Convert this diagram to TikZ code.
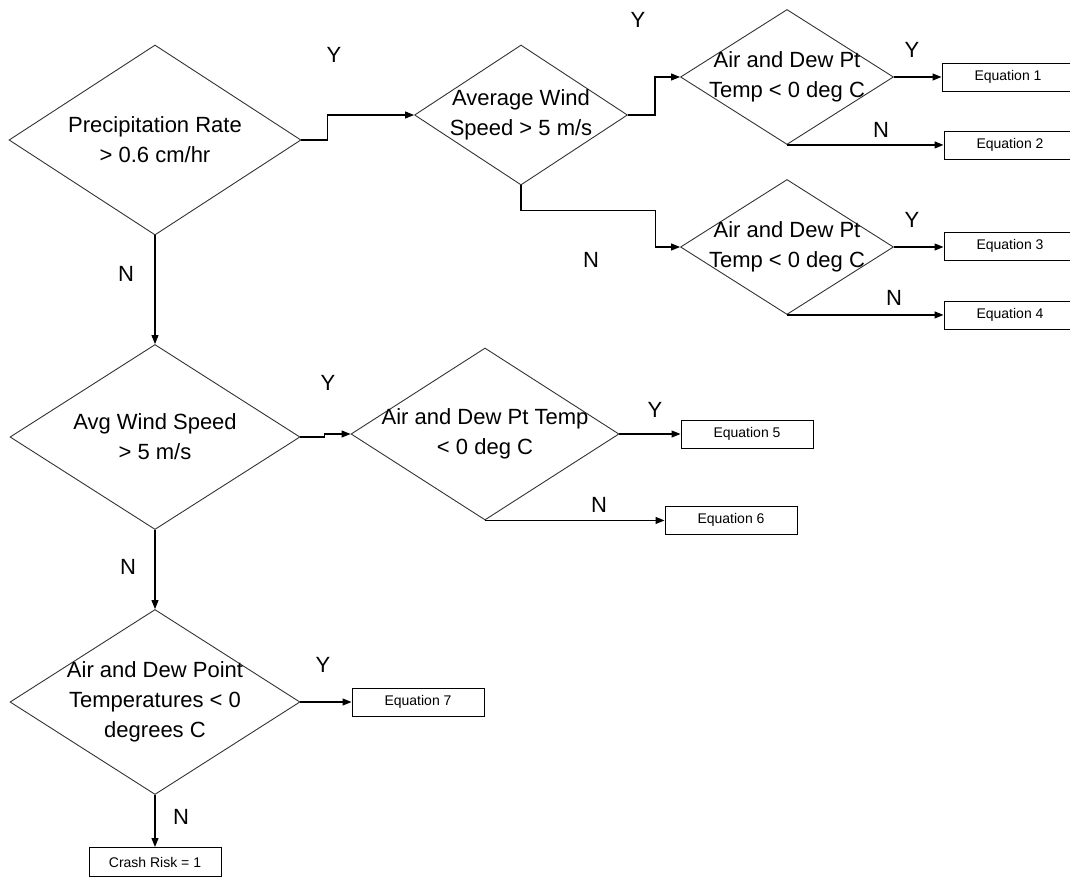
\documentclass[tikz,border=0pt]{standalone}
\usepackage{fontspec}
\setmainfont{Liberation Sans}
\usetikzlibrary{shapes.geometric, arrows.meta, calc}

\begin{document}
\begin{tikzpicture}[x=1pt,y=-1pt,
  decision/.style={draw=black!80, line width=0.9pt, shape=diamond, inner sep=0pt},
  dtext/.style={align=center, font=\fontsize{22}{30}\selectfont},
  eqbox/.style={draw, line width=1pt, minimum width=132pt, minimum height=28pt, inner sep=0pt, font=\fontsize{14}{16}\selectfont},
  yn/.style={font=\fontsize{22}{24}\selectfont},
  arr/.style={line width=1.1pt, -{Triangle[length=9pt,width=7pt]}}]
\useasboundingbox (0,0) rectangle (1070,878);
\node [decision, minimum width=292pt, minimum height=190pt, label={[dtext]center:Precipitation Rate\\> 0.6 cm/hr}] (rate) at (155,140) {};
\node [decision, minimum width=213pt, minimum height=140pt, label={[dtext]center:Average Wind\\Speed > 5 m/s}] (wind1) at (521,115) {};
\node [decision, minimum width=213pt, minimum height=135pt, label={[dtext]center:Air and Dew Pt\\Temp < 0 deg C}] (temp1) at (787,77) {};
\node [decision, minimum width=213pt, minimum height=135pt, label={[dtext]center:Air and Dew Pt\\Temp < 0 deg C}] (temp2) at (787,247) {};
\node [decision, minimum width=290pt, minimum height=185pt, label={[dtext]center:Avg Wind Speed\\> 5 m/s}] (wind2) at (155,437) {};
\node [decision, minimum width=268pt, minimum height=172pt, label={[dtext]center:Air and Dew Pt Temp\\< 0 deg C}] (temp3) at (485,434) {};
\node [decision, minimum width=290pt, minimum height=185pt, label={[dtext]center:Air and Dew Point\\Temperatures < 0\\degrees C}] (temp4) at (155,702) {};
\node [eqbox] (eq1) at (1008,77) {Equation 1};
\node [eqbox] (eq2) at (1010,145) {Equation 2};
\node [eqbox] (eq3) at (1010,246) {Equation 3};
\node [eqbox] (eq4) at (1010,315) {Equation 4};
\node [eqbox] (eq5) at (747,434) {Equation 5};
\node [eqbox] (eq6) at (731,520) {Equation 6};
\node [eqbox] (eq7) at (418,702) {Equation 7};
\node [eqbox, minimum height=29pt] (crash) at (155,862) {Crash Risk = 1};
\draw [arr] (rate.east) -- ++(26,0) |- (wind1.west);
\draw [arr] (wind1.east) -- ++(27,0) |- (temp1.west);
\draw [arr] (wind1.south) -- ++(0,25) -| ([xshift=-25pt]temp2.west) -- (temp2.west);
\draw [arr] (temp1.east) -- (temp1.east -| eq1.west);
\draw [arr] (temp1.south) -- (temp1.south -| eq2.west);
\draw [arr] (temp2.east) -- (temp2.east -| eq3.west);
\draw [arr] (temp2.south) -- (temp2.south -| eq4.west);
\draw [arr] (rate.south) -- (wind2.north);
\draw [arr] (wind2.east) -- ++(24,0) |- (temp3.west);
\draw [arr] (temp3.east) -- (temp3.east -| eq5.west);
\draw [arr] (temp3.south) -- (temp3.south -| eq6.west);
\draw [arr] (wind2.south) -- (temp4.north);
\draw [arr] (temp4.east) -- (temp4.east -| eq7.west);
\draw [arr] (temp4.south) -- (crash.north);
\node [yn] (y1) at (334,55) {Y};
\node [yn] (y2) at (638,20) {Y};
\node [yn] (y3) at (912,50) {Y};
\node [yn] (n3) at (881,130) {N};
\node [yn] (n2) at (591,260) {N};
\node [yn] (y4) at (912,220) {Y};
\node [yn] (n4) at (894,298) {N};
\node [yn] (n1) at (126,274) {N};
\node [yn] (y5) at (328,383) {Y};
\node [yn] (y6) at (655,410) {Y};
\node [yn] (n6) at (599,505) {N};
\node [yn] (n5) at (128,567) {N};
\node [yn] (y7) at (323,665) {Y};
\node [yn] (n7) at (181,817) {N};
\end{tikzpicture}
\end{document}
